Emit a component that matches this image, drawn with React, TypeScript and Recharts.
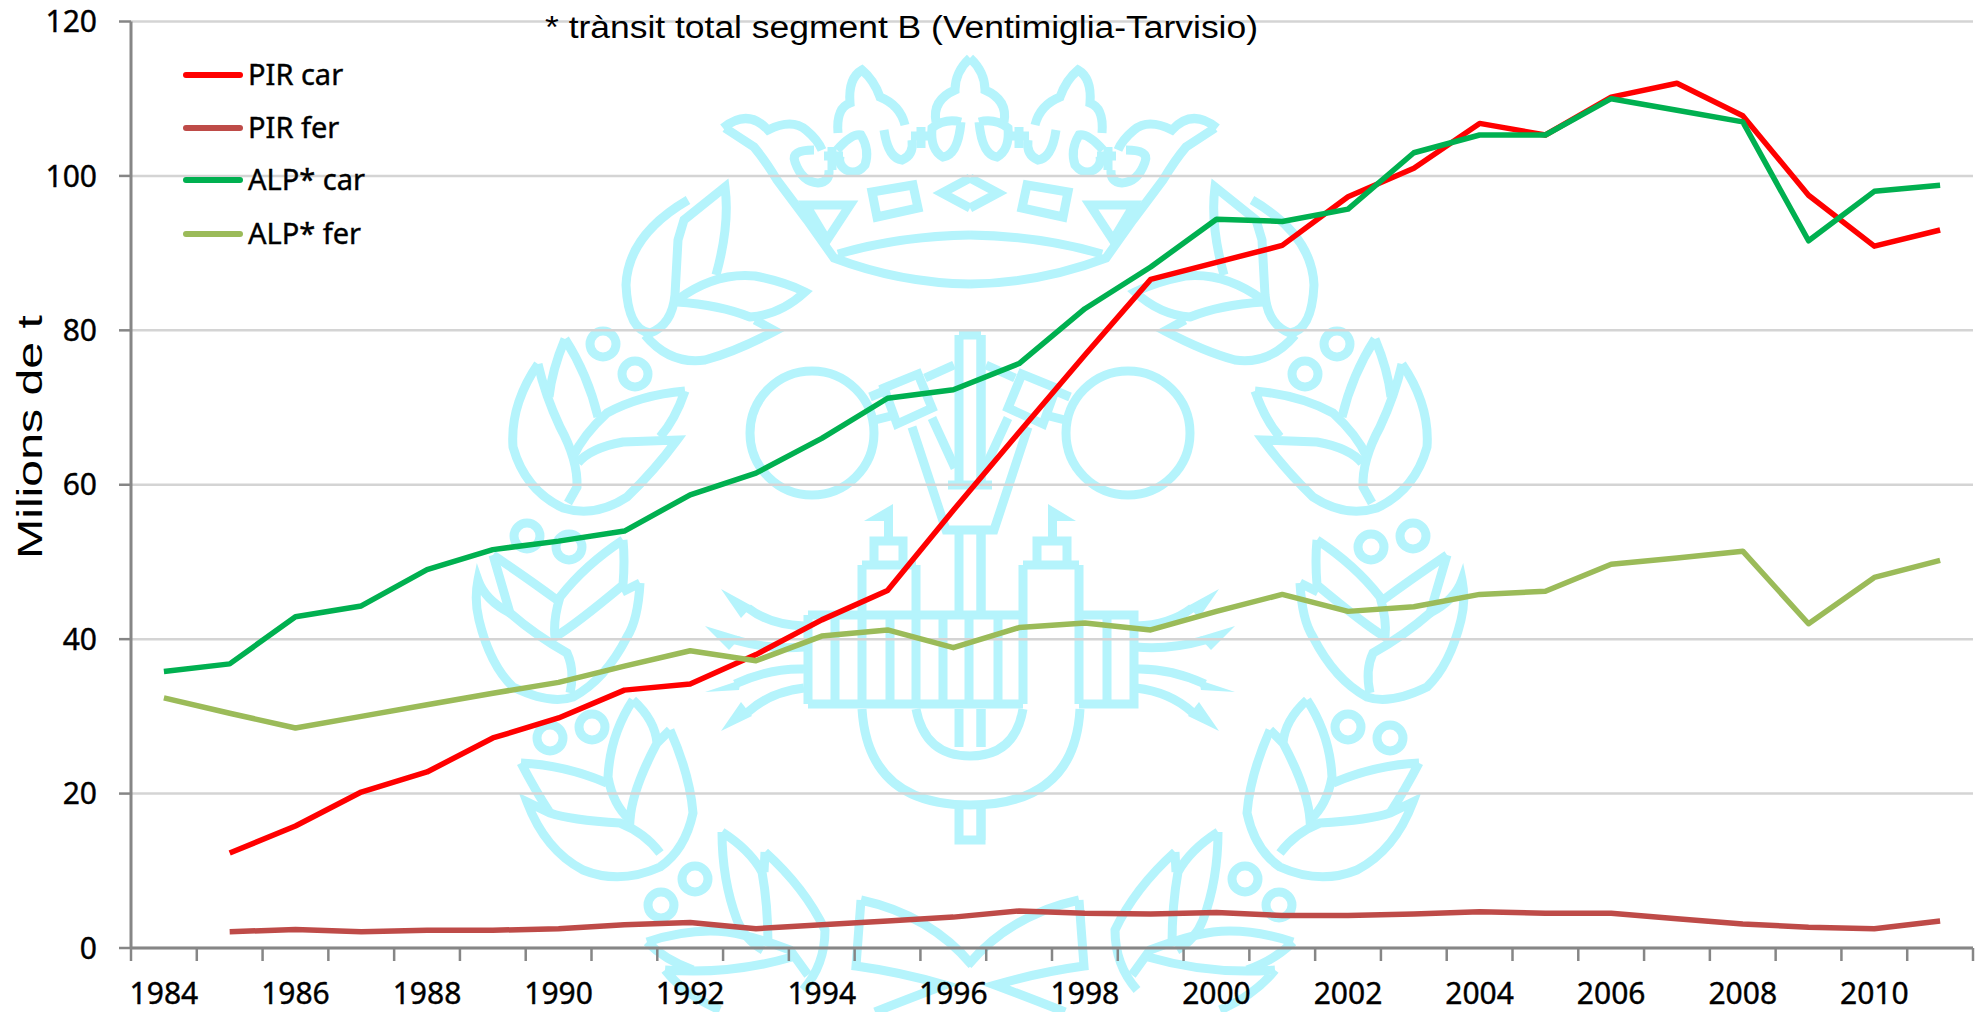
import React from 'react';
import { LineChart, Line, XAxis, YAxis, CartesianGrid, Legend } from 'recharts';

const years = [1984,1985,1986,1987,1988,1989,1990,1991,1992,1993,1994,1995,1996,1997,1998,1999,2000,2001,2002,2003,2004,2005,2006,2007,2008,2009,2010,2011];
const pirCar = [null,12.3,15.8,20.2,22.8,27.2,29.8,33.4,34.2,38,42.5,46.3,56.7,66.8,76.8,86.6,88.8,91,97.3,101,106.8,105.3,110.2,112,107.8,97.5,90.9,93];
const pirFer = [null,2.1,2.4,2.1,2.3,2.3,2.5,3,3.3,2.5,3,3.5,4,4.8,4.5,4.4,4.6,4.2,4.2,4.4,4.7,4.5,4.5,3.8,3.1,2.7,2.5,3.5];
const alpCar = [35.8,36.8,42.9,44.3,49,51.6,52.7,54,58.7,61.5,66,71.2,72.3,75.7,82.8,88.2,94.4,94.1,95.7,103,105.3,105.3,110,108.5,107,91.6,98,98.8];
const alpFer = [32.4,30.4,28.5,30,31.5,33,34.4,36.5,38.5,37.2,40.4,41.2,38.9,41.5,42.1,41.2,43.6,45.8,43.6,44.2,45.8,46.2,49.7,50.5,51.4,42,48,50.2];
const yTicks = [0,20,40,60,80,100,120];
const seriesNames = ['PIR car','PIR fer','ALP* car','ALP* fer'];
const seriesColors = ['#ff0000','#be4b48','#00b050','#9bbb59'];
const titleText = '* trànsit total segment B (Ventimiglia-Tarvisio)';
const yTitle = 'Milions de t';

const table = years.map((y, i) => ({ year: y, pirCar: pirCar[i], pirFer: pirFer[i], alpCar: alpCar[i], alpFer: alpFer[i] }));

const W = 1979, H = 1012;
const M = { left: 131, right: 6, top: 21.5, bottom: 64 };
const AXIS = '#868686';
const BAND = (W - M.left - M.right) / years.length;
const WM = '#b5f4fc';
const TICK_FONT = '"Noto Sans", sans-serif';
const TEXT_FONT = '"Liberation Sans", Arial, sans-serif';

// Watermark: half of a symmetric emblem (mirrored about x = 970)
const halfPaths = [
  // crown
  'M725,128 L754,147 Q765,160 777,180 L807,220 L834,258 Q900,283 970,284',
  'M838,254 Q900,236 970,235',
  'M723,128 Q748,108 768,130 Q792,118 806,130 Q818,140 822,150',
  'M814,150 Q790,150 795,162 Q802,182 818,183 Q830,182 829,170',
  'M837,150 Q852,133 861,135 Q870,150 865,165 Q856,176 846,170 Q838,165 840,156',
  'M838,133 Q836,108 850,103 Q848,78 862,70 Q874,80 880,97 Q900,105 905,125',
  'M884,130 Q888,158 902,160 Q914,155 912,140',
  'M961,122 Q958,155 943,157 Q930,150 932,128 Q945,118 961,122',
  'M936,122 Q932,100 955,90 Q955,72 970,58',
  'M832,147 L832,170 M824,156 L843,156',
  'M921,127 L921,148 M911,136 L932,136',
  'M970,178 L942,193 L970,208',
  'M872,192 L913,185 L918,208 L877,217 Z',
  'M806,205 L850,205 L827,240 Z',
  // upper leaf cluster
  'M688,200 Q628,235 626,285 Q628,330 650,333 Q672,325 675,295 L678,240 L684,220 L725,187 Q730,225 716,275',
  'M677,300 Q715,272 755,276 Q785,282 805,292 Q780,315 750,317 Q720,305 677,302',
  'M645,335 Q670,365 705,360 Q735,352 775,331 L755,320',
  // second cluster
  'M538,364 Q510,405 513,447 Q525,490 563,508 Q595,518 627,497 Q655,470 677,440 L623,442 Q590,448 578,463',
  'M538,364 Q545,395 560,427 Q578,460 577,487 L568,503',
  'M565,339 Q552,370 549,397 M565,339 Q588,375 598,417',
  'M685,391 Q640,395 607,413 Q583,435 573,457 M685,391 Q675,420 660,437',
  // third cluster
  'M493,555 L510,613 Q535,635 567,653 Q575,670 570,693',
  'M493,555 Q530,580 557,600 M623,540 Q585,565 560,597 Q553,620 555,637 Q575,625 623,585 Q625,560 623,540',
  'M640,583 L622,592 M640,583 Q638,620 627,637 Q605,680 573,697 Q550,705 513,687 Q490,665 479,620 Q474,600 478,580 Q485,600 510,613',
  // fourth cluster
  'M633,700 Q610,735 608,777 Q613,805 630,820 Q632,790 657,743 Q655,720 633,700 M670,730 L657,743',
  'M670,730 Q690,775 693,813 Q685,850 660,867 Q620,885 583,870 Q545,850 527,802 L550,813 Q570,820 620,823 Q645,833 660,853',
  'M521,763 Q565,765 607,783 M521,763 Q535,790 550,813',
  // fifth cluster
  'M722,832 Q722,880 737,920 Q745,940 763,950 M722,832 Q750,850 762,872 Q768,905 768,945',
  'M765,852 Q805,888 825,930 Q825,965 803,990 M765,852 L764,872',
  'M647,942 Q690,928 727,932 Q750,935 790,950 L808,975 M647,942 Q665,960 693,970',
  'M665,970 Q730,975 792,957 M665,970 Q685,995 720,1010',
  // bottom center
  'M861,900 Q930,915 972,965 M861,900 L856,966 Q900,972 945,985 Q905,1000 875,1012',
  // circle connectors and hammer
  'M884,388 L918,374 L932,408 L897,424 Z',
  'M870,397 L884,391 M871,421 L895,415',
  'M954,365 L925,378',
  'M912,427 L946,530 L970,530 M932,418 L955,468',
  'M948,485 L970,485',
  'M959,335 L959,482 M959,335 L970,335',
  'M959,533 L959,611',
  'M959,709 L959,747',
  'M959,806 L959,840 L970,840',
  // arrows
  'M804,626 Q770,625 748,608',
  'M804,647 Q770,650 735,640',
  'M804,669 Q770,668 735,684',
  'M804,688 Q770,692 748,712',
];
const halfCircles = [[812,433,62],[603,344,13],[635,374,13],[527,536,13],[569,547,13],[550,738,13],[592,727,13],[695,879,13],[661,905,13]];
const halfFills = [
  'M721,589 L752,606 L741,618 Z',
  'M705,626 L741,637 L729,650 Z',
  'M705,692 L741,680 L739,690 Z',
  'M721,731 L752,716 L741,702 Z',
];
const fullPaths = [
  'M808,615 L1023,615 M808,704 L1023,704 M808,615 L808,704',
  'M1079,615 L1134,615 L1134,704 L1079,704 M1107,615 L1107,704',
  'M835,615 L835,704 M862,565 L862,704 M890,615 L890,704 M916,565 L916,704 M943,615 L943,704 M998,615 L998,704',
  'M969,615 L969,704',
  'M1023,565 L1023,704 M1079,565 L1079,704 M862,565 L916,565 M1023,565 L1079,565',
  'M874,565 L874,541 L903,541 L903,565 M1037,565 L1037,541 L1067,541 L1067,565',
  'M862,709 Q868,805 970,805 Q1075,805 1080,709',
  'M916,709 Q925,756 970,756 Q1015,756 1023,709',
  'M981,335 L981,482 M981,533 L981,611 M981,709 L981,747 M981,806 L981,840',
];
const fullFills = [
  'M893,504 L864,521 L884,521 L884,537 L893,537 Z',
  'M1048,504 L1076,521 L1057,521 L1057,537 L1048,537 Z',
];

function Watermark() {
  const half = (
    <>
      {halfPaths.map((d, i) => <path key={i} d={d} fill="none" stroke={WM} strokeWidth={9} strokeLinejoin="miter" />)}
      {halfCircles.map((c, i) => <circle key={i} cx={c[0]} cy={c[1]} r={c[2]} fill="none" stroke={WM} strokeWidth={9} />)}
      {halfFills.map((d, i) => <path key={i} d={d} fill={WM} />)}
    </>
  );
  return (
    <svg width={W} height={H} style={{ position: 'absolute', left: 0, top: 0 }}>
      {half}
      <g transform="translate(1940,0) scale(-1,1)">{half}</g>
      {fullPaths.map((d, i) => <path key={i} d={d} fill="none" stroke={WM} strokeWidth={9} />)}
      {fullFills.map((d, i) => <path key={i} d={d} fill={WM} />)}
    </svg>
  );
}

function XTick(props: any) {
  const { x, y, index } = props;
  const left = x - BAND / 2;
  return (
    <g>
      <line x1={left} x2={left} y1={y} y2={y + 13} stroke={AXIS} strokeWidth={2.5} />
      {index === years.length - 1 && (
        <line x1={left + BAND} x2={left + BAND} y1={y} y2={y + 13} stroke={AXIS} strokeWidth={2.5} />
      )}
      {index % 2 === 0 && (
        <text x={x} y={y + 56} textAnchor="middle" fontFamily={TICK_FONT} fontSize={30} fill="#000" stroke="#000" strokeWidth={0.4}>{props.payload.value}</text>
      )}
    </g>
  );
}

function LegendBox(props: any) {
  return (
    <div style={{ position: 'relative', width: 220, height: 240 }}>
      {props.payload.map((e: any, i: number) => (
        <div key={e.value} style={{ position: 'absolute', left: 0, top: [75, 128, 180, 234][i] - 75, height: 0 }}>
          <div style={{ position: 'absolute', left: 0, top: -3, width: 60, height: 6, borderRadius: 3, background: e.color }} />
          <span style={{ position: 'absolute', left: 65, top: -20, fontFamily: TICK_FONT, fontSize: 29, lineHeight: '38px', color: '#000', whiteSpace: 'nowrap', WebkitTextStroke: '0.4px #000' }}>{e.value}</span>
        </div>
      ))}
    </div>
  );
}

function YTitle() {
  const cx = 29, cy = 437;
  return (
    <text x={cx} y={cy} transform={`rotate(-90 ${cx} ${cy})`} textAnchor="middle" dominantBaseline="central" fontFamily={TEXT_FONT} fontSize={35} fill="#000" textLength={244} lengthAdjust="spacingAndGlyphs">{yTitle}</text>
  );
}

export default function App() {
  return (
    <div style={{ position: 'absolute', left: 0, top: 0, width: W, height: H, background: '#fff', overflow: 'hidden' }}>
      <Watermark />
      <div style={{ position: 'absolute', left: 0, top: 0 }}>
        <LineChart width={W} height={H} data={table} margin={{ top: M.top, right: M.right, bottom: 0, left: 0 }}>
          <CartesianGrid vertical={false} stroke="#d4d4d4" strokeWidth={2.5} />
          <XAxis dataKey="year" scale="band" interval={0} height={M.bottom} tickLine={false} tickSize={0} tickMargin={0} tick={<XTick />} axisLine={{ stroke: AXIS, strokeWidth: 3 }} />
          <YAxis
            width={M.left}
            domain={[0, 120]}
            ticks={yTicks}
            tickSize={12}
            tickMargin={22}
            tick={{ fontFamily: TICK_FONT, fontSize: 30, fill: '#000', stroke: '#000', strokeWidth: 0.4 }}
            tickLine={{ stroke: AXIS, strokeWidth: 2.5 }}
            axisLine={{ stroke: AXIS, strokeWidth: 3 }}
          />
          <Legend content={<LegendBox />} itemSorter={null} layout="vertical" verticalAlign="middle" align="center" wrapperStyle={{ left: 183, top: 75, width: 220 }} />
          <Line dataKey="pirCar" name={seriesNames[0]} stroke={seriesColors[0]} strokeWidth={5.5} dot={false} isAnimationActive={false} strokeLinejoin="round" />
          <Line dataKey="pirFer" name={seriesNames[1]} stroke={seriesColors[1]} strokeWidth={5.5} dot={false} isAnimationActive={false} strokeLinejoin="round" />
          <Line dataKey="alpCar" name={seriesNames[2]} stroke={seriesColors[2]} strokeWidth={5.5} dot={false} isAnimationActive={false} strokeLinejoin="round" />
          <Line dataKey="alpFer" name={seriesNames[3]} stroke={seriesColors[3]} strokeWidth={5.5} dot={false} isAnimationActive={false} strokeLinejoin="round" />
          <text x={545} y={38} fontFamily={TEXT_FONT} fontSize={31} fill="#000" textLength={713} lengthAdjust="spacingAndGlyphs">{titleText}</text>
          <YTitle />
        </LineChart>
      </div>
    </div>
  );
}
